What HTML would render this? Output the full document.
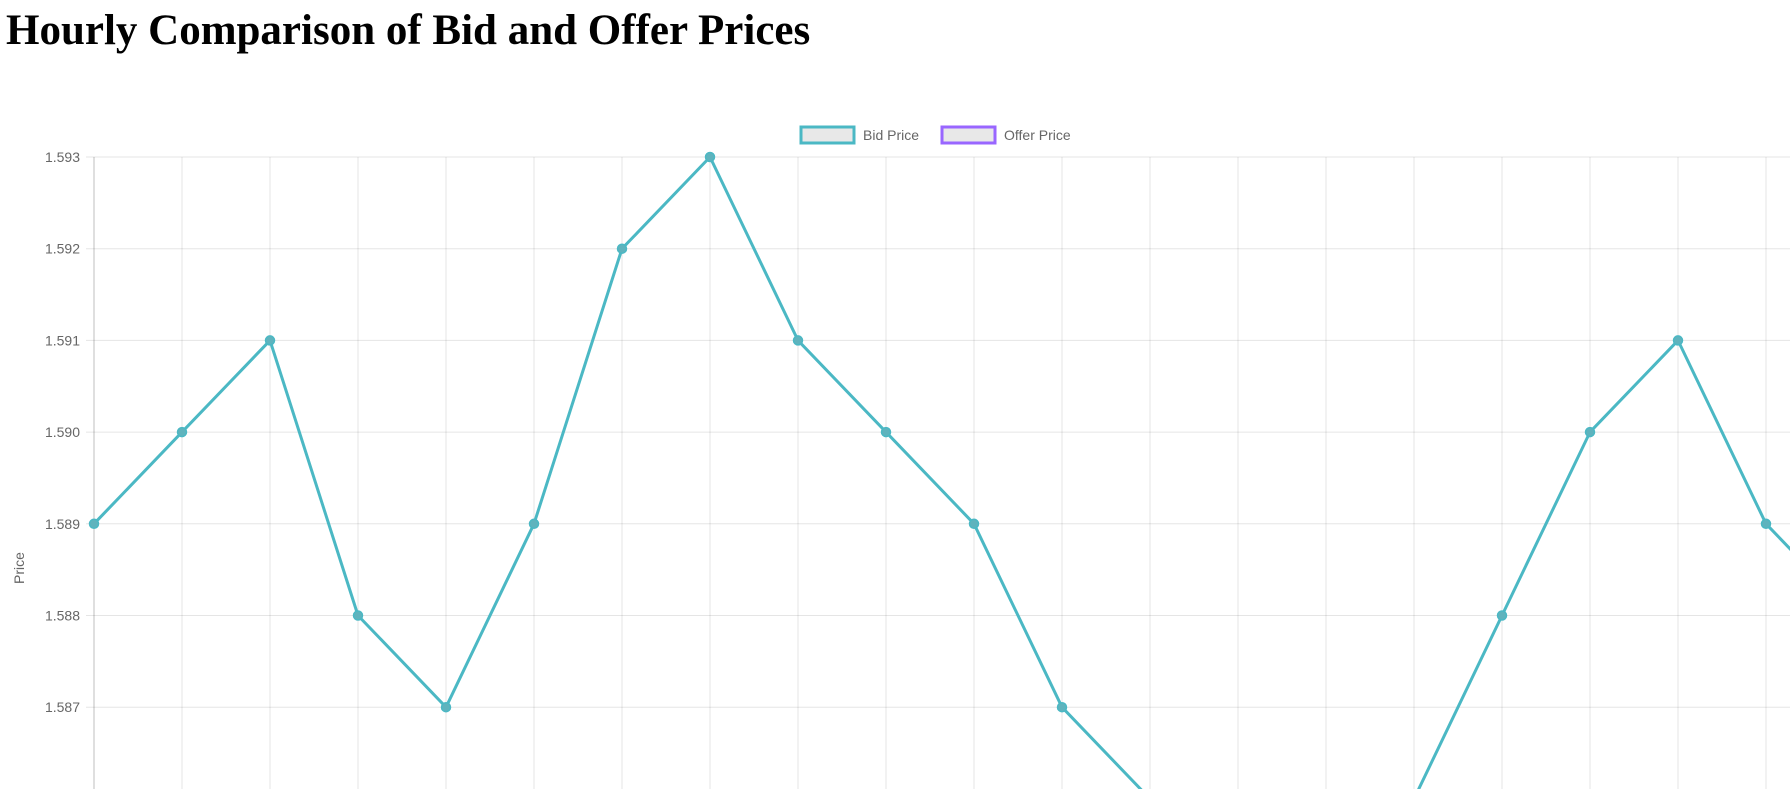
<!DOCTYPE html>
<html><head><meta charset="utf-8"><style>
html,body{margin:0;padding:0;background:#fff;width:1790px;height:790px;overflow:hidden}
h1{position:absolute;left:6px;top:6px;margin:0;font-family:"Liberation Serif",serif;font-size:43px;font-weight:bold;color:#000;white-space:nowrap}
svg{position:absolute;left:0;top:0}
</style></head><body>
<h1>Hourly Comparison of Bid and Offer Prices</h1>
<svg id="chart" width="1790" height="789" font-family="Liberation Sans, sans-serif"></svg>
<script>
const categories=["00:00","01:00","02:00","03:00","04:00","05:00","06:00","07:00","08:00","09:00","10:00","11:00","12:00","13:00","14:00","15:00","16:00","17:00","18:00","19:00","20:00"];
const bidValues=[1.589,1.590,1.591,1.588,1.587,1.589,1.592,1.593,1.591,1.590,1.589,1.587,1.586,1.585,1.585,1.586,1.588,1.590,1.591,1.589,1.588];
const offerValues=[];
const yTicks=[1.593,1.592,1.591,1.590,1.589,1.588,1.587,1.586];
const NS="http://www.w3.org/2000/svg";
const svg=document.getElementById('chart');
const X0=94,DX=88,Y0=157,DY=91.7,YMAX=1.593;
function xs(i){return X0+i*DX;}
function ys(v){return Y0+(YMAX-v)/0.001*DY;}
function mk(t,a){const e=document.createElementNS(NS,t);for(const k in a)e.setAttribute(k,a[k]);svg.appendChild(e);return e;}
categories.forEach((c,i)=>{const l=mk('line',{x1:xs(i),x2:xs(i),y1:Y0,y2:789,stroke:i==0?'rgba(0,0,0,0.25)':'rgba(0,0,0,0.1)','stroke-width':1});

});
yTicks.forEach(v=>{const y=ys(v);if(y>789)return;const l=mk('line',{x1:X0-8,x2:1790,y1:y,y2:y,stroke:'rgba(0,0,0,0.1)','stroke-width':1});


const t=mk('text',{x:X0-14,y:y+5,'text-anchor':'end','font-size':14,fill:'#666'});t.textContent=v.toFixed(3);

});
const yt=mk('text',{x:0,y:0,transform:'translate(24,568) rotate(-90)','text-anchor':'middle','font-size':14,fill:'#666'});yt.textContent='Price';


function drawSeries(vals,color,name){if(!vals.length)return;
const p=mk('polyline',{points:vals.map((v,i)=>xs(i)+','+ys(v)).join(' '),fill:'none',stroke:color,'stroke-width':3,'stroke-linejoin':'round'});


vals.forEach((v,i)=>{const c=mk('circle',{cx:xs(i),cy:ys(v),r:4.5,fill:'#5fb3bd',stroke:color,'stroke-width':1.5});

});}
drawSeries(bidValues,'#4bb8c4','bid');
drawSeries(offerValues,'#9966ff','offer');
function leg(x,color,label,name){const g=document.createElementNS(NS,'g');svg.appendChild(g);


const r=document.createElementNS(NS,'rect');r.setAttribute('x',x);r.setAttribute('y',127);r.setAttribute('width',53);r.setAttribute('height',16);r.setAttribute('fill','#e8e8e8');r.setAttribute('stroke',color);r.setAttribute('stroke-width',3);g.appendChild(r);
const t=document.createElementNS(NS,'text');t.setAttribute('x',x+62);t.setAttribute('y',140);t.setAttribute('font-size',14);t.setAttribute('fill','#666');t.textContent=label;g.appendChild(t);}
leg(801,'#4bb8c4','Bid Price','legend-bid-price');
leg(942,'#9966ff','Offer Price','legend-offer-price');
</script>
</body></html>
